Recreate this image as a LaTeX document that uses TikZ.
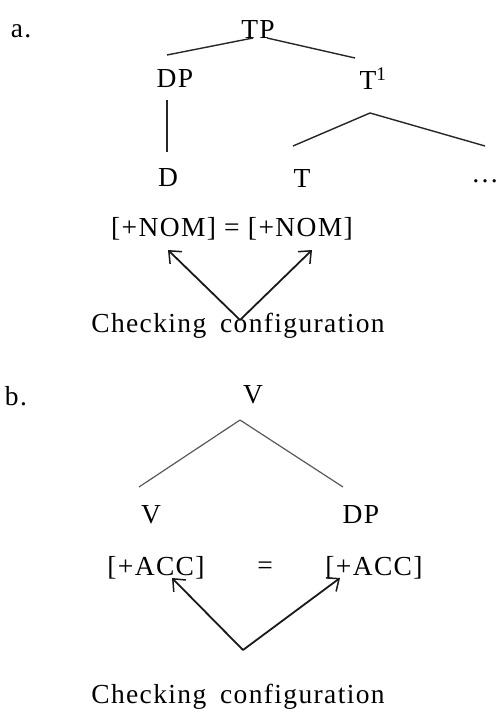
\documentclass[tikz,border=0pt]{standalone}
\usepackage{fontspec}
\setmainfont{Liberation Serif}[LetterSpace=5]
\usepackage{tikz}
\usetikzlibrary{arrows.meta,positioning}

\begin{document}
\begin{tikzpicture}[x=1pt,y=-1pt,
    lbl/.style={inner sep=0pt,font=\fontsize{27.5}{30}\selectfont},
    branch/.style={line width=1.4pt,color=black!85},
    branchb/.style={line width=1.2pt,color=black!65},
    check/.style={-{Straight Barb[length=10pt,width=17pt,line width=1.5pt]},line width=1.8pt,color=black!90}]
  \useasboundingbox (0,0) rectangle (500,711);
  % (a) TP tree
  \node[lbl] (la) at (21,31) {a.};
  \node[lbl] (tp) at (258,29) {TP};
  \node[lbl] (dp) at (175,79) {DP};
  \node[lbl] (tbar) at (373,79) {T\textsuperscript{1}};
  \node[lbl] (d) at (168,178) {D};
  \node[lbl] (t) at (302,178) {T};
  \node[lbl,anchor=east] (dots) at (499,181) {\ldots};
  \coordinate (tpl) at (253,38);
  \coordinate (tpr) at (267,38);
  \coordinate (dpt) at (167,55);
  \coordinate (tbt) at (355,58);
  \coordinate (dpb) at (167,100);
  \coordinate (dt) at (167,152);
  \coordinate (tbb) at (370,113);
  \coordinate (tt) at (293,146);
  \coordinate (dotst) at (485,146);
  \draw[branch] (tpl) -- (dpt);
  \draw[branch] (tpr) -- (tbt);
  \draw[branch] (dpb) -- (dt);
  \draw[branch] (tbb) -- (tt);
  \draw[branch] (tbb) -- (dotst);
  \node[lbl] (noma) at (232,229) {[+NOM] = [+NOM]};
  \node[lbl] (cka) at (238,326) {Checking\hspace{0.5em}configuration};
  \coordinate (apa) at (240,320);
  \coordinate (noml) at (168,250);
  \coordinate (nomr) at (312,250);
  \draw[check] (apa) -- (noml);
  \draw[check] (apa) -- (nomr);
  % (b) V tree
  \node[lbl] (lb) at (16,396) {b.};
  \node[lbl] (vtop) at (253,395) {V};
  \node[lbl] (vl) at (151,515) {V};
  \node[lbl] (dpv) at (361,515) {DP};
  \coordinate (apv) at (240,420);
  \coordinate (vlt) at (139,487);
  \coordinate (dpvt) at (343,487);
  \draw[branchb] (apv) -- (vlt);
  \draw[branchb] (apv) -- (dpvt);
  \node[lbl] (accl) at (156,568) {[+ACC]};
  \node[lbl] (eq) at (265,568) {=};
  \node[lbl] (accr) at (374,568) {[+ACC]};
  \node[lbl] (ckb) at (238,697) {Checking\hspace{0.5em}configuration};
  \coordinate (apb) at (243,650);
  \coordinate (accla) at (172,578);
  \coordinate (accra) at (340,578);
  \draw[check] (apb) -- (accla);
  \draw[check] (apb) -- (accra);
\end{tikzpicture}
\end{document}
